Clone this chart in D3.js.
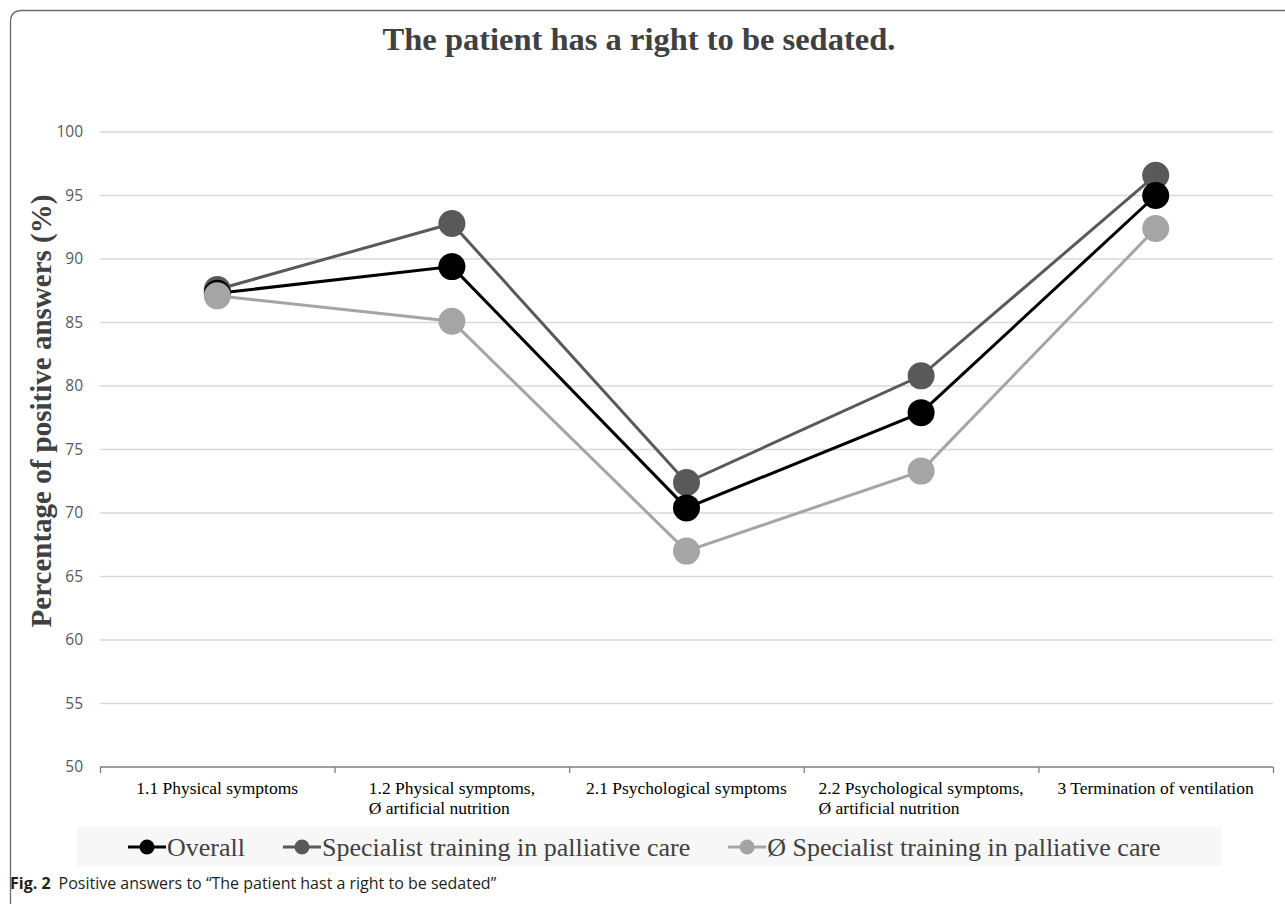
<!DOCTYPE html>
<html>
<head>
<meta charset="utf-8">
<script src="https://cdn.jsdelivr.net/npm/d3@7/dist/d3.min.js"></script>
<style>
  body { margin: 0; background: #fff; }
  svg { display: block; }
</style>
</head>
<body>
<svg id="chart" width="1285" height="904"></svg>
<script>
// categories along the x axis (line breaks as in the figure)
const categories = [
    ["1.1 Physical symptoms"],
    ["1.2 Physical symptoms,", "\u00D8 artificial nutrition"],
    ["2.1 Psychological symptoms"],
    ["2.2 Psychological symptoms,", "\u00D8 artificial nutrition"],
    ["3 Termination of ventilation"]
];

// percentages
const overall = [87.3, 89.4, 70.4, 77.9, 95.0];
const specialist = [87.6, 92.8, 72.4, 80.8, 96.6];
const noSpecialist = [87.1, 85.1, 67.0, 73.3, 92.4];

const yTicks = [50, 55, 60, 65, 70, 75, 80, 85, 90, 95, 100];

const series = [
    { name: "Specialist training in palliative care", values: specialist, color: "#595959" },
    { name: "Overall", values: overall, color: "#000000" },
    { name: "\u00D8 Specialist training in palliative care", values: noSpecialist, color: "#a5a5a5" }
];
const legendOrder = [1, 0, 2];

const serif = "'Liberation Serif', 'Times New Roman', serif";
const svg = d3.select("#chart");

// card frame, open to the right and bottom
svg.append("path")
    .attr("d", "M10.5,904 L10.5,22 Q10.5,10.5 22,10.5 L1290,10.5")
    .attr("fill", "none")
    .attr("stroke", "#6b6b6b")
    .attr("stroke-width", 1.3);

let x = d3.scaleBand()
    .domain(d3.range(categories.length))
    .range([100, 1273]);

let y = d3.scaleLinear()
    .domain([50, 100])
    .range([767, 132]);

// gridlines
svg.append("g")
    .selectAll("line")
    .data(yTicks.filter(d => d > 50))
    .join("line")
    .attr("x1", 100)
    .attr("x2", 1273)
    .attr("y1", d => y(d))
    .attr("y2", d => y(d))
    .attr("stroke", "#d9d9d9")
    .attr("stroke-width", 1.3);

// y axis labels
let yAxis = d3.axisLeft(y).tickValues(yTicks).tickSize(0).tickPadding(17);
let yg = svg.append("g").attr("transform", "translate(100,0)").call(yAxis);
yg.select(".domain").remove();
yg.selectAll("text")
    .attr("font-family", "'Open Sans', sans-serif")
    .attr("font-size", 15.5)
    .attr("fill", "#595959");

// x axis line with ticks between categories
let xAxis = d3.axisBottom(d3.scaleLinear().domain([0, categories.length]).range([100, 1273]))
    .tickValues(d3.range(categories.length + 1))
    .tickSize(6)
    .tickFormat("");
let xg = svg.append("g").attr("transform", "translate(0,767)").call(xAxis);
xg.select(".domain").attr("stroke", "#7f7f7f").attr("stroke-width", 1.3).attr("d", "M100,0H1273");
xg.selectAll(".tick line").attr("stroke", "#7f7f7f").attr("stroke-width", 1.3);

// category labels: wrapped lines share a left edge, block centred in band
categories.forEach(function (lines, i) {
    let t = svg.append("text")
        .attr("font-family", serif)
        .attr("font-size", 17.5)
        .attr("fill", "#000");
    lines.forEach(function (line, j) {
        t.append("tspan").attr("x", 0).attr("y", 794 + j * 20).text(line);
    });
    let w = t.node().getBBox().width;
    t.attr("transform", "translate(" + (x(i) + x.bandwidth() / 2 - w / 2) + ",0)");
});

// lines and markers
let line = d3.line()
    .x((d, i) => x(i) + x.bandwidth() / 2)
    .y(d => y(d));

series.forEach(function (s) {
    let g = svg.append("g");
    g.append("path")
        .attr("d", line(s.values))
        .attr("fill", "none")
        .attr("stroke", s.color)
        .attr("stroke-width", 3);
    g.selectAll("circle")
        .data(s.values)
        .join("circle")
        .attr("cx", (d, i) => x(i) + x.bandwidth() / 2)
        .attr("cy", d => y(d))
        .attr("r", 13.5)
        .attr("fill", s.color);
});

// title
svg.append("text")
    .attr("x", 639)
    .attr("y", 50)
    .attr("text-anchor", "middle")
    .attr("font-family", serif)
    .attr("font-weight", "bold")
    .attr("font-size", 32.5)
    .attr("fill", "#404040")
    .text("The patient has a right to be sedated.");

// y axis title
svg.append("text")
    .attr("transform", "translate(51,411) rotate(-90)")
    .attr("text-anchor", "middle")
    .attr("font-family", serif)
    .attr("font-weight", "bold")
    .attr("font-size", 29)
    .attr("fill", "#404040")
    .text("Percentage of positive answers (%)");

// legend
svg.append("rect")
    .attr("x", 77)
    .attr("y", 827)
    .attr("width", 1144)
    .attr("height", 39)
    .attr("fill", "#f7f7f7");

let lx = 128;
legendOrder.forEach(function (si) {
    let s = series[si];
    svg.append("line")
        .attr("x1", lx).attr("x2", lx + 38)
        .attr("y1", 847).attr("y2", 847)
        .attr("stroke", s.color).attr("stroke-width", 3);
    svg.append("circle")
        .attr("cx", lx + 19).attr("cy", 847).attr("r", 7.5)
        .attr("fill", s.color);
    let t = svg.append("text")
        .attr("x", lx + 39)
        .attr("y", 856)
        .attr("font-family", serif)
        .attr("font-size", 26)
        .attr("fill", "#404040")
        .text(s.name);
    lx += 39 + t.node().getComputedTextLength() + 38;
});

// caption
let cap = svg.append("text")
    .attr("x", 10)
    .attr("y", 889)
    .attr("font-family", "'Open Sans', sans-serif")
    .attr("font-size", 16)
    .attr("fill", "#231f20");
cap.append("tspan").attr("font-weight", "bold").text("Fig. 2");
cap.append("tspan").text("\u2002Positive answers to \u201CThe patient hast a right to be sedated\u201D");
</script>
</body>
</html>
